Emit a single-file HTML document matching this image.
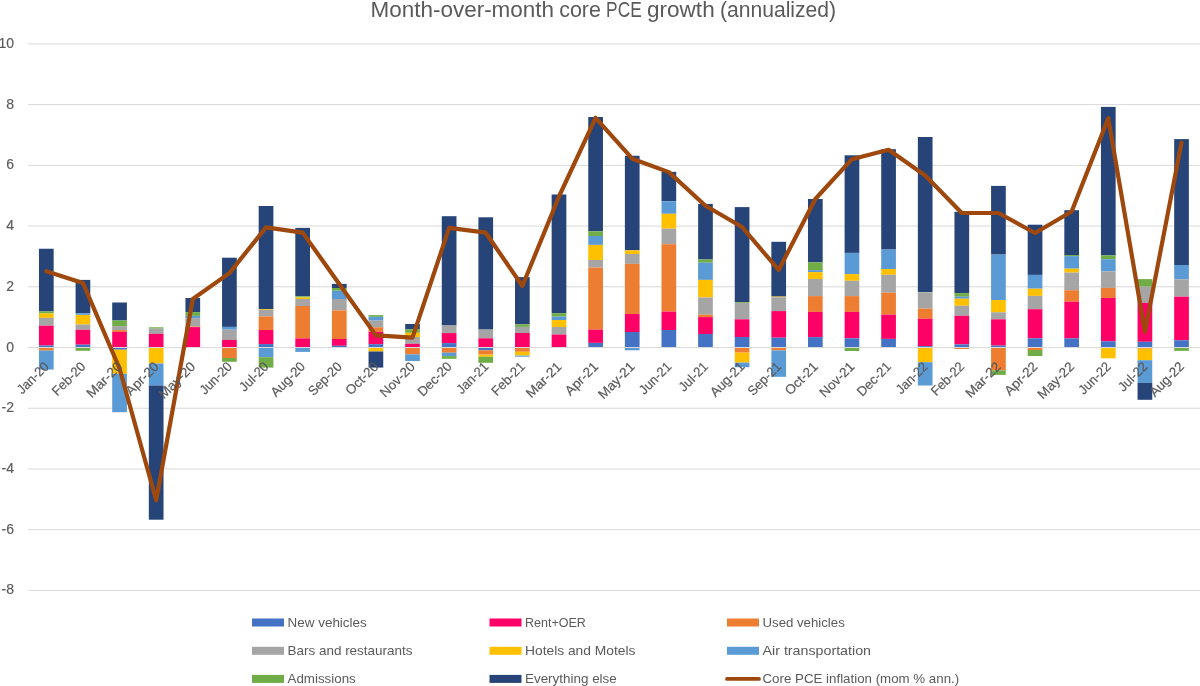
<!DOCTYPE html>
<html><head><meta charset="utf-8"><style>
html,body{margin:0;padding:0;background:#fff;}
body{width:1200px;height:686px;overflow:hidden;}
svg{display:block;}
.t{opacity:0.995;}
text{font-family:"Liberation Sans",sans-serif;fill:#595959;}
.ax{font-size:14px;stroke:#595959;stroke-width:0.15px;}
.xl{font-size:13.3px;stroke:#595959;stroke-width:0.2px;}
.lg{font-size:13.4px;}
.title{font-size:21.6px;}
</style></head><body>
<svg width="1200" height="686" viewBox="0 0 1200 686">
<rect width="1200" height="686" fill="#fff"/>
<rect x="28" y="43.40" width="1172" height="1" fill="#D9D9D9"/>
<rect x="28" y="104.12" width="1172" height="1" fill="#D9D9D9"/>
<rect x="28" y="164.84" width="1172" height="1" fill="#D9D9D9"/>
<rect x="28" y="225.56" width="1172" height="1" fill="#D9D9D9"/>
<rect x="28" y="286.28" width="1172" height="1" fill="#D9D9D9"/>
<rect x="28" y="407.72" width="1172" height="1" fill="#D9D9D9"/>
<rect x="28" y="468.44" width="1172" height="1" fill="#D9D9D9"/>
<rect x="28" y="529.16" width="1172" height="1" fill="#D9D9D9"/>
<rect x="28" y="589.88" width="1172" height="1" fill="#D9D9D9"/>
<rect x="38.96" y="248.75" width="14.7" height="62.65" fill="#264478"/>
<rect x="38.96" y="311.40" width="14.7" height="2.10" fill="#70AD47"/>
<rect x="38.96" y="313.50" width="14.7" height="4.40" fill="#FFC000"/>
<rect x="38.96" y="317.90" width="14.7" height="7.85" fill="#A5A5A5"/>
<rect x="38.96" y="325.75" width="14.7" height="19.75" fill="#FF0066"/>
<rect x="38.96" y="345.50" width="14.7" height="2.00" fill="#4472C4"/>
<rect x="38.96" y="347.50" width="14.7" height="3.10" fill="#ED7D31"/>
<rect x="38.96" y="350.60" width="14.7" height="19.00" fill="#5B9BD5"/>
<rect x="75.58" y="279.90" width="14.7" height="33.25" fill="#264478"/>
<rect x="75.58" y="313.15" width="14.7" height="1.75" fill="#5B9BD5"/>
<rect x="75.58" y="314.90" width="14.7" height="9.60" fill="#FFC000"/>
<rect x="75.58" y="324.50" width="14.7" height="5.30" fill="#A5A5A5"/>
<rect x="75.58" y="329.80" width="14.7" height="14.85" fill="#FF0066"/>
<rect x="75.58" y="344.65" width="14.7" height="2.85" fill="#4472C4"/>
<rect x="75.58" y="347.50" width="14.7" height="3.30" fill="#70AD47"/>
<rect x="112.20" y="302.50" width="14.7" height="18.00" fill="#264478"/>
<rect x="112.20" y="320.50" width="14.7" height="5.60" fill="#70AD47"/>
<rect x="112.20" y="326.10" width="14.7" height="4.00" fill="#A5A5A5"/>
<rect x="112.20" y="330.10" width="14.7" height="1.80" fill="#ED7D31"/>
<rect x="112.20" y="331.90" width="14.7" height="15.60" fill="#FF0066"/>
<rect x="112.20" y="347.50" width="14.7" height="2.20" fill="#4472C4"/>
<rect x="112.20" y="349.70" width="14.7" height="24.10" fill="#FFC000"/>
<rect x="112.20" y="373.80" width="14.7" height="38.40" fill="#5B9BD5"/>
<rect x="148.82" y="327.30" width="14.7" height="1.30" fill="#70AD47"/>
<rect x="148.82" y="328.60" width="14.7" height="5.20" fill="#A5A5A5"/>
<rect x="148.82" y="333.80" width="14.7" height="13.70" fill="#FF0066"/>
<rect x="148.82" y="347.50" width="14.7" height="16.00" fill="#FFC000"/>
<rect x="148.82" y="363.50" width="14.7" height="22.00" fill="#5B9BD5"/>
<rect x="148.82" y="385.50" width="14.7" height="134.20" fill="#264478"/>
<rect x="185.44" y="298.00" width="14.7" height="14.10" fill="#264478"/>
<rect x="185.44" y="312.10" width="14.7" height="3.80" fill="#70AD47"/>
<rect x="185.44" y="315.90" width="14.7" height="2.30" fill="#5B9BD5"/>
<rect x="185.44" y="318.20" width="14.7" height="8.40" fill="#A5A5A5"/>
<rect x="185.44" y="326.60" width="14.7" height="0.50" fill="#ED7D31"/>
<rect x="185.44" y="327.10" width="14.7" height="20.40" fill="#FF0066"/>
<rect x="222.06" y="257.70" width="14.7" height="69.20" fill="#264478"/>
<rect x="222.06" y="326.90" width="14.7" height="2.80" fill="#5B9BD5"/>
<rect x="222.06" y="329.70" width="14.7" height="10.20" fill="#A5A5A5"/>
<rect x="222.06" y="339.90" width="14.7" height="7.60" fill="#FF0066"/>
<rect x="222.06" y="347.50" width="14.7" height="10.50" fill="#ED7D31"/>
<rect x="222.06" y="358.00" width="14.7" height="3.80" fill="#70AD47"/>
<rect x="258.68" y="206.00" width="14.7" height="103.00" fill="#264478"/>
<rect x="258.68" y="309.00" width="14.7" height="0.80" fill="#FFC000"/>
<rect x="258.68" y="309.80" width="14.7" height="6.60" fill="#A5A5A5"/>
<rect x="258.68" y="316.40" width="14.7" height="13.60" fill="#ED7D31"/>
<rect x="258.68" y="330.00" width="14.7" height="14.05" fill="#FF0066"/>
<rect x="258.68" y="344.05" width="14.7" height="3.45" fill="#4472C4"/>
<rect x="258.68" y="347.50" width="14.7" height="9.70" fill="#5B9BD5"/>
<rect x="258.68" y="357.20" width="14.7" height="10.40" fill="#70AD47"/>
<rect x="295.30" y="227.90" width="14.7" height="68.40" fill="#264478"/>
<rect x="295.30" y="296.30" width="14.7" height="1.20" fill="#70AD47"/>
<rect x="295.30" y="297.50" width="14.7" height="1.50" fill="#FFC000"/>
<rect x="295.30" y="299.00" width="14.7" height="7.00" fill="#A5A5A5"/>
<rect x="295.30" y="306.00" width="14.7" height="32.40" fill="#ED7D31"/>
<rect x="295.30" y="338.40" width="14.7" height="9.10" fill="#FF0066"/>
<rect x="295.30" y="347.50" width="14.7" height="4.40" fill="#5B9BD5"/>
<rect x="331.92" y="283.90" width="14.7" height="4.10" fill="#264478"/>
<rect x="331.92" y="288.00" width="14.7" height="2.80" fill="#70AD47"/>
<rect x="331.92" y="290.80" width="14.7" height="8.20" fill="#5B9BD5"/>
<rect x="331.92" y="299.00" width="14.7" height="11.40" fill="#A5A5A5"/>
<rect x="331.92" y="310.40" width="14.7" height="28.60" fill="#ED7D31"/>
<rect x="331.92" y="339.00" width="14.7" height="6.80" fill="#FF0066"/>
<rect x="331.92" y="345.80" width="14.7" height="1.70" fill="#4472C4"/>
<rect x="368.54" y="315.10" width="14.7" height="1.70" fill="#70AD47"/>
<rect x="368.54" y="316.80" width="14.7" height="3.80" fill="#5B9BD5"/>
<rect x="368.54" y="320.60" width="14.7" height="6.70" fill="#A5A5A5"/>
<rect x="368.54" y="327.30" width="14.7" height="4.60" fill="#ED7D31"/>
<rect x="368.54" y="331.90" width="14.7" height="12.30" fill="#FF0066"/>
<rect x="368.54" y="344.20" width="14.7" height="3.30" fill="#4472C4"/>
<rect x="368.54" y="347.50" width="14.7" height="4.00" fill="#FFC000"/>
<rect x="368.54" y="351.50" width="14.7" height="16.10" fill="#264478"/>
<rect x="405.16" y="324.00" width="14.7" height="5.30" fill="#264478"/>
<rect x="405.16" y="329.30" width="14.7" height="3.50" fill="#70AD47"/>
<rect x="405.16" y="332.80" width="14.7" height="4.20" fill="#FFC000"/>
<rect x="405.16" y="337.00" width="14.7" height="6.80" fill="#A5A5A5"/>
<rect x="405.16" y="343.80" width="14.7" height="3.70" fill="#FF0066"/>
<rect x="405.16" y="347.50" width="14.7" height="6.80" fill="#ED7D31"/>
<rect x="405.16" y="354.30" width="14.7" height="6.70" fill="#5B9BD5"/>
<rect x="441.78" y="216.20" width="14.7" height="109.30" fill="#264478"/>
<rect x="441.78" y="325.50" width="14.7" height="7.60" fill="#A5A5A5"/>
<rect x="441.78" y="333.10" width="14.7" height="10.00" fill="#FF0066"/>
<rect x="441.78" y="343.10" width="14.7" height="4.40" fill="#4472C4"/>
<rect x="441.78" y="347.50" width="14.7" height="5.20" fill="#ED7D31"/>
<rect x="441.78" y="352.70" width="14.7" height="3.40" fill="#5B9BD5"/>
<rect x="441.78" y="356.10" width="14.7" height="2.70" fill="#70AD47"/>
<rect x="478.40" y="217.30" width="14.7" height="112.30" fill="#264478"/>
<rect x="478.40" y="329.60" width="14.7" height="8.70" fill="#A5A5A5"/>
<rect x="478.40" y="338.30" width="14.7" height="9.20" fill="#FF0066"/>
<rect x="478.40" y="347.50" width="14.7" height="2.80" fill="#4472C4"/>
<rect x="478.40" y="350.30" width="14.7" height="4.30" fill="#ED7D31"/>
<rect x="478.40" y="354.60" width="14.7" height="2.20" fill="#FFC000"/>
<rect x="478.40" y="356.80" width="14.7" height="6.00" fill="#70AD47"/>
<rect x="515.02" y="277.10" width="14.7" height="47.20" fill="#264478"/>
<rect x="515.02" y="324.30" width="14.7" height="2.60" fill="#70AD47"/>
<rect x="515.02" y="326.90" width="14.7" height="6.10" fill="#A5A5A5"/>
<rect x="515.02" y="333.00" width="14.7" height="14.50" fill="#FF0066"/>
<rect x="515.02" y="347.50" width="14.7" height="4.30" fill="#ED7D31"/>
<rect x="515.02" y="351.80" width="14.7" height="3.80" fill="#FFC000"/>
<rect x="515.02" y="355.60" width="14.7" height="1.10" fill="#5B9BD5"/>
<rect x="551.64" y="194.50" width="14.7" height="118.60" fill="#264478"/>
<rect x="551.64" y="313.10" width="14.7" height="3.50" fill="#70AD47"/>
<rect x="551.64" y="316.60" width="14.7" height="3.40" fill="#5B9BD5"/>
<rect x="551.64" y="320.00" width="14.7" height="7.00" fill="#FFC000"/>
<rect x="551.64" y="327.00" width="14.7" height="7.50" fill="#A5A5A5"/>
<rect x="551.64" y="334.50" width="14.7" height="13.00" fill="#FF0066"/>
<rect x="588.26" y="117.00" width="14.7" height="114.30" fill="#264478"/>
<rect x="588.26" y="231.30" width="14.7" height="4.70" fill="#70AD47"/>
<rect x="588.26" y="236.00" width="14.7" height="8.90" fill="#5B9BD5"/>
<rect x="588.26" y="244.90" width="14.7" height="15.10" fill="#FFC000"/>
<rect x="588.26" y="260.00" width="14.7" height="7.60" fill="#A5A5A5"/>
<rect x="588.26" y="267.60" width="14.7" height="62.00" fill="#ED7D31"/>
<rect x="588.26" y="329.60" width="14.7" height="13.30" fill="#FF0066"/>
<rect x="588.26" y="342.90" width="14.7" height="4.60" fill="#4472C4"/>
<rect x="624.88" y="155.75" width="14.7" height="94.55" fill="#264478"/>
<rect x="624.88" y="250.30" width="14.7" height="3.70" fill="#FFC000"/>
<rect x="624.88" y="254.00" width="14.7" height="9.90" fill="#A5A5A5"/>
<rect x="624.88" y="263.90" width="14.7" height="50.00" fill="#ED7D31"/>
<rect x="624.88" y="313.90" width="14.7" height="18.10" fill="#FF0066"/>
<rect x="624.88" y="332.00" width="14.7" height="15.50" fill="#4472C4"/>
<rect x="624.88" y="347.50" width="14.7" height="2.80" fill="#5B9BD5"/>
<rect x="661.50" y="171.85" width="14.7" height="29.40" fill="#264478"/>
<rect x="661.50" y="201.25" width="14.7" height="12.55" fill="#5B9BD5"/>
<rect x="661.50" y="213.80" width="14.7" height="14.90" fill="#FFC000"/>
<rect x="661.50" y="228.70" width="14.7" height="15.50" fill="#A5A5A5"/>
<rect x="661.50" y="244.20" width="14.7" height="67.40" fill="#ED7D31"/>
<rect x="661.50" y="311.60" width="14.7" height="18.40" fill="#FF0066"/>
<rect x="661.50" y="330.00" width="14.7" height="17.50" fill="#4472C4"/>
<rect x="698.12" y="203.90" width="14.7" height="55.60" fill="#264478"/>
<rect x="698.12" y="259.50" width="14.7" height="3.20" fill="#70AD47"/>
<rect x="698.12" y="262.70" width="14.7" height="17.20" fill="#5B9BD5"/>
<rect x="698.12" y="279.90" width="14.7" height="17.60" fill="#FFC000"/>
<rect x="698.12" y="297.50" width="14.7" height="17.20" fill="#A5A5A5"/>
<rect x="698.12" y="314.70" width="14.7" height="2.40" fill="#ED7D31"/>
<rect x="698.12" y="317.10" width="14.7" height="16.90" fill="#FF0066"/>
<rect x="698.12" y="334.00" width="14.7" height="13.50" fill="#4472C4"/>
<rect x="734.74" y="207.10" width="14.7" height="95.00" fill="#264478"/>
<rect x="734.74" y="302.10" width="14.7" height="0.80" fill="#70AD47"/>
<rect x="734.74" y="302.90" width="14.7" height="16.40" fill="#A5A5A5"/>
<rect x="734.74" y="319.30" width="14.7" height="17.70" fill="#FF0066"/>
<rect x="734.74" y="337.00" width="14.7" height="10.50" fill="#4472C4"/>
<rect x="734.74" y="347.50" width="14.7" height="5.10" fill="#ED7D31"/>
<rect x="734.74" y="352.60" width="14.7" height="10.00" fill="#FFC000"/>
<rect x="734.74" y="362.60" width="14.7" height="4.60" fill="#5B9BD5"/>
<rect x="771.36" y="241.80" width="14.7" height="54.80" fill="#264478"/>
<rect x="771.36" y="296.60" width="14.7" height="0.70" fill="#FFC000"/>
<rect x="771.36" y="297.30" width="14.7" height="13.80" fill="#A5A5A5"/>
<rect x="771.36" y="311.10" width="14.7" height="26.60" fill="#FF0066"/>
<rect x="771.36" y="337.70" width="14.7" height="9.80" fill="#4472C4"/>
<rect x="771.36" y="347.50" width="14.7" height="2.90" fill="#ED7D31"/>
<rect x="771.36" y="350.40" width="14.7" height="26.40" fill="#5B9BD5"/>
<rect x="807.98" y="199.00" width="14.7" height="63.40" fill="#264478"/>
<rect x="807.98" y="262.40" width="14.7" height="7.70" fill="#70AD47"/>
<rect x="807.98" y="270.10" width="14.7" height="2.00" fill="#5B9BD5"/>
<rect x="807.98" y="272.10" width="14.7" height="6.90" fill="#FFC000"/>
<rect x="807.98" y="279.00" width="14.7" height="17.10" fill="#A5A5A5"/>
<rect x="807.98" y="296.10" width="14.7" height="15.80" fill="#ED7D31"/>
<rect x="807.98" y="311.90" width="14.7" height="25.20" fill="#FF0066"/>
<rect x="807.98" y="337.10" width="14.7" height="10.40" fill="#4472C4"/>
<rect x="844.60" y="155.30" width="14.7" height="97.60" fill="#264478"/>
<rect x="844.60" y="252.90" width="14.7" height="21.20" fill="#5B9BD5"/>
<rect x="844.60" y="274.10" width="14.7" height="6.70" fill="#FFC000"/>
<rect x="844.60" y="280.80" width="14.7" height="15.30" fill="#A5A5A5"/>
<rect x="844.60" y="296.10" width="14.7" height="15.80" fill="#ED7D31"/>
<rect x="844.60" y="311.90" width="14.7" height="26.40" fill="#FF0066"/>
<rect x="844.60" y="338.30" width="14.7" height="9.20" fill="#4472C4"/>
<rect x="844.60" y="347.50" width="14.7" height="3.50" fill="#70AD47"/>
<rect x="881.22" y="149.20" width="14.7" height="100.40" fill="#264478"/>
<rect x="881.22" y="249.60" width="14.7" height="19.40" fill="#5B9BD5"/>
<rect x="881.22" y="269.00" width="14.7" height="5.80" fill="#FFC000"/>
<rect x="881.22" y="274.80" width="14.7" height="17.90" fill="#A5A5A5"/>
<rect x="881.22" y="292.70" width="14.7" height="22.00" fill="#ED7D31"/>
<rect x="881.22" y="314.70" width="14.7" height="24.20" fill="#FF0066"/>
<rect x="881.22" y="338.90" width="14.7" height="8.60" fill="#4472C4"/>
<rect x="917.84" y="137.00" width="14.7" height="155.10" fill="#264478"/>
<rect x="917.84" y="292.10" width="14.7" height="0.40" fill="#70AD47"/>
<rect x="917.84" y="292.50" width="14.7" height="16.10" fill="#A5A5A5"/>
<rect x="917.84" y="308.60" width="14.7" height="10.20" fill="#ED7D31"/>
<rect x="917.84" y="318.80" width="14.7" height="27.30" fill="#FF0066"/>
<rect x="917.84" y="346.10" width="14.7" height="1.40" fill="#4472C4"/>
<rect x="917.84" y="347.50" width="14.7" height="14.70" fill="#FFC000"/>
<rect x="917.84" y="362.20" width="14.7" height="23.30" fill="#5B9BD5"/>
<rect x="954.46" y="211.80" width="14.7" height="81.30" fill="#264478"/>
<rect x="954.46" y="293.10" width="14.7" height="3.60" fill="#70AD47"/>
<rect x="954.46" y="296.70" width="14.7" height="2.00" fill="#5B9BD5"/>
<rect x="954.46" y="298.70" width="14.7" height="7.10" fill="#FFC000"/>
<rect x="954.46" y="305.80" width="14.7" height="10.00" fill="#A5A5A5"/>
<rect x="954.46" y="315.80" width="14.7" height="28.60" fill="#FF0066"/>
<rect x="954.46" y="344.40" width="14.7" height="3.10" fill="#4472C4"/>
<rect x="954.46" y="347.50" width="14.7" height="1.50" fill="#ED7D31"/>
<rect x="991.08" y="185.90" width="14.7" height="68.70" fill="#264478"/>
<rect x="991.08" y="254.60" width="14.7" height="45.40" fill="#5B9BD5"/>
<rect x="991.08" y="300.00" width="14.7" height="12.30" fill="#FFC000"/>
<rect x="991.08" y="312.30" width="14.7" height="7.00" fill="#A5A5A5"/>
<rect x="991.08" y="319.30" width="14.7" height="26.30" fill="#FF0066"/>
<rect x="991.08" y="345.60" width="14.7" height="1.90" fill="#4472C4"/>
<rect x="991.08" y="347.50" width="14.7" height="22.90" fill="#ED7D31"/>
<rect x="991.08" y="370.40" width="14.7" height="4.50" fill="#70AD47"/>
<rect x="1027.70" y="224.70" width="14.7" height="50.20" fill="#264478"/>
<rect x="1027.70" y="274.90" width="14.7" height="13.80" fill="#5B9BD5"/>
<rect x="1027.70" y="288.70" width="14.7" height="7.20" fill="#FFC000"/>
<rect x="1027.70" y="295.90" width="14.7" height="13.30" fill="#A5A5A5"/>
<rect x="1027.70" y="309.20" width="14.7" height="29.10" fill="#FF0066"/>
<rect x="1027.70" y="338.30" width="14.7" height="9.20" fill="#4472C4"/>
<rect x="1027.70" y="347.50" width="14.7" height="2.50" fill="#ED7D31"/>
<rect x="1027.70" y="350.00" width="14.7" height="6.00" fill="#70AD47"/>
<rect x="1064.32" y="210.20" width="14.7" height="44.80" fill="#264478"/>
<rect x="1064.32" y="255.00" width="14.7" height="1.10" fill="#70AD47"/>
<rect x="1064.32" y="256.10" width="14.7" height="12.60" fill="#5B9BD5"/>
<rect x="1064.32" y="268.70" width="14.7" height="3.90" fill="#FFC000"/>
<rect x="1064.32" y="272.60" width="14.7" height="17.60" fill="#A5A5A5"/>
<rect x="1064.32" y="290.20" width="14.7" height="11.50" fill="#ED7D31"/>
<rect x="1064.32" y="301.70" width="14.7" height="36.70" fill="#FF0066"/>
<rect x="1064.32" y="338.40" width="14.7" height="9.10" fill="#4472C4"/>
<rect x="1100.94" y="106.90" width="14.7" height="148.50" fill="#264478"/>
<rect x="1100.94" y="255.40" width="14.7" height="3.80" fill="#70AD47"/>
<rect x="1100.94" y="259.20" width="14.7" height="12.20" fill="#5B9BD5"/>
<rect x="1100.94" y="271.40" width="14.7" height="16.50" fill="#A5A5A5"/>
<rect x="1100.94" y="287.90" width="14.7" height="10.00" fill="#ED7D31"/>
<rect x="1100.94" y="297.90" width="14.7" height="43.40" fill="#FF0066"/>
<rect x="1100.94" y="341.30" width="14.7" height="6.20" fill="#4472C4"/>
<rect x="1100.94" y="347.50" width="14.7" height="10.80" fill="#FFC000"/>
<rect x="1137.56" y="279.10" width="14.7" height="7.60" fill="#70AD47"/>
<rect x="1137.56" y="286.70" width="14.7" height="16.10" fill="#A5A5A5"/>
<rect x="1137.56" y="302.80" width="14.7" height="39.00" fill="#FF0066"/>
<rect x="1137.56" y="341.80" width="14.7" height="5.70" fill="#4472C4"/>
<rect x="1137.56" y="347.50" width="14.7" height="1.20" fill="#ED7D31"/>
<rect x="1137.56" y="348.70" width="14.7" height="11.50" fill="#FFC000"/>
<rect x="1137.56" y="360.20" width="14.7" height="22.70" fill="#5B9BD5"/>
<rect x="1137.56" y="382.90" width="14.7" height="16.90" fill="#264478"/>
<rect x="1174.18" y="139.10" width="14.7" height="125.90" fill="#264478"/>
<rect x="1174.18" y="265.00" width="14.7" height="14.40" fill="#5B9BD5"/>
<rect x="1174.18" y="279.40" width="14.7" height="17.30" fill="#A5A5A5"/>
<rect x="1174.18" y="296.70" width="14.7" height="43.60" fill="#FF0066"/>
<rect x="1174.18" y="340.30" width="14.7" height="7.20" fill="#4472C4"/>
<rect x="1174.18" y="347.50" width="14.7" height="3.40" fill="#70AD47"/>
<rect x="28" y="347" width="1172" height="1" fill="#D9D9D9"/>
<polyline points="46.31,271.20 82.93,282.90 119.55,368.50 156.17,500.30 192.79,299.00 229.41,273.10 266.03,227.30 302.65,232.60 339.27,284.00 375.89,335.40 412.51,337.70 449.13,227.90 485.75,232.70 522.37,286.00 558.99,196.50 595.61,117.80 632.23,158.70 668.85,172.10 705.47,205.70 742.09,227.00 778.71,270.00 815.33,199.00 851.95,159.20 888.57,149.80 925.19,175.50 961.81,213.00 998.43,213.00 1035.05,233.00 1071.67,211.50 1108.29,118.30 1144.91,331.80 1181.53,142.70" fill="none" stroke="#9E480E" stroke-width="4.2" stroke-linejoin="round" stroke-linecap="round"/>
<rect x="252" y="618.50" width="32" height="8.0" fill="#4472C4"/>
<rect x="489.5" y="618.50" width="32" height="8.0" fill="#FF0066"/>
<rect x="727" y="618.50" width="32" height="8.0" fill="#ED7D31"/>
<rect x="252" y="646.80" width="32" height="8.0" fill="#A5A5A5"/>
<rect x="489.5" y="646.80" width="32" height="8.0" fill="#FFC000"/>
<rect x="727" y="646.80" width="32" height="8.0" fill="#5B9BD5"/>
<rect x="252" y="674.90" width="32" height="8.0" fill="#70AD47"/>
<rect x="489.5" y="674.90" width="32" height="8.0" fill="#264478"/>
<line x1="727" y1="678.9" x2="759" y2="678.9" stroke="#9E480E" stroke-width="3.8" stroke-linecap="round"/>
<g class="t">
<text x="14" y="47.90" text-anchor="end" class="ax">10</text>
<text x="14" y="108.62" text-anchor="end" class="ax">8</text>
<text x="14" y="169.34" text-anchor="end" class="ax">6</text>
<text x="14" y="230.06" text-anchor="end" class="ax">4</text>
<text x="14" y="290.78" text-anchor="end" class="ax">2</text>
<text x="14" y="351.50" text-anchor="end" class="ax">0</text>
<text x="14" y="412.22" text-anchor="end" class="ax">-2</text>
<text x="14" y="472.94" text-anchor="end" class="ax">-4</text>
<text x="14" y="533.66" text-anchor="end" class="ax">-6</text>
<text x="14" y="594.38" text-anchor="end" class="ax">-8</text>
<text x="49.71" y="367.40" text-anchor="end" class="xl" textLength="38.77" lengthAdjust="spacingAndGlyphs" transform="rotate(-45 49.71 367.40)">Jan-20</text>
<text x="86.33" y="367.40" text-anchor="end" class="xl" textLength="41.11" lengthAdjust="spacingAndGlyphs" transform="rotate(-45 86.33 367.40)">Feb-20</text>
<text x="122.95" y="367.40" text-anchor="end" class="xl" textLength="44.05" lengthAdjust="spacingAndGlyphs" transform="rotate(-45 122.95 367.40)">Mar-20</text>
<text x="159.57" y="367.40" text-anchor="end" class="xl" textLength="40.68" lengthAdjust="spacingAndGlyphs" transform="rotate(-45 159.57 367.40)">Apr-20</text>
<text x="196.19" y="367.40" text-anchor="end" class="xl" textLength="45.58" lengthAdjust="spacingAndGlyphs" transform="rotate(-45 196.19 367.40)">May-20</text>
<text x="232.81" y="367.40" text-anchor="end" class="xl" textLength="39.45" lengthAdjust="spacingAndGlyphs" transform="rotate(-45 232.81 367.40)">Jun-20</text>
<text x="269.43" y="367.40" text-anchor="end" class="xl" textLength="35.11" lengthAdjust="spacingAndGlyphs" transform="rotate(-45 269.43 367.40)">Jul-20</text>
<text x="306.05" y="367.40" text-anchor="end" class="xl" textLength="42.47" lengthAdjust="spacingAndGlyphs" transform="rotate(-45 306.05 367.40)">Aug-20</text>
<text x="342.67" y="367.40" text-anchor="end" class="xl" textLength="41.11" lengthAdjust="spacingAndGlyphs" transform="rotate(-45 342.67 367.40)">Sep-20</text>
<text x="379.29" y="367.40" text-anchor="end" class="xl" textLength="40.20" lengthAdjust="spacingAndGlyphs" transform="rotate(-45 379.29 367.40)">Oct-20</text>
<text x="415.91" y="367.40" text-anchor="end" class="xl" textLength="43.20" lengthAdjust="spacingAndGlyphs" transform="rotate(-45 415.91 367.40)">Nov-20</text>
<text x="452.53" y="367.40" text-anchor="end" class="xl" textLength="41.90" lengthAdjust="spacingAndGlyphs" transform="rotate(-45 452.53 367.40)">Dec-20</text>
<text x="489.15" y="367.40" text-anchor="end" class="xl" textLength="38.77" lengthAdjust="spacingAndGlyphs" transform="rotate(-45 489.15 367.40)">Jan-21</text>
<text x="525.77" y="367.40" text-anchor="end" class="xl" textLength="41.11" lengthAdjust="spacingAndGlyphs" transform="rotate(-45 525.77 367.40)">Feb-21</text>
<text x="562.39" y="367.40" text-anchor="end" class="xl" textLength="44.05" lengthAdjust="spacingAndGlyphs" transform="rotate(-45 562.39 367.40)">Mar-21</text>
<text x="599.01" y="367.40" text-anchor="end" class="xl" textLength="40.68" lengthAdjust="spacingAndGlyphs" transform="rotate(-45 599.01 367.40)">Apr-21</text>
<text x="635.63" y="367.40" text-anchor="end" class="xl" textLength="45.58" lengthAdjust="spacingAndGlyphs" transform="rotate(-45 635.63 367.40)">May-21</text>
<text x="672.25" y="367.40" text-anchor="end" class="xl" textLength="39.45" lengthAdjust="spacingAndGlyphs" transform="rotate(-45 672.25 367.40)">Jun-21</text>
<text x="708.87" y="367.40" text-anchor="end" class="xl" textLength="35.11" lengthAdjust="spacingAndGlyphs" transform="rotate(-45 708.87 367.40)">Jul-21</text>
<text x="745.49" y="367.40" text-anchor="end" class="xl" textLength="42.47" lengthAdjust="spacingAndGlyphs" transform="rotate(-45 745.49 367.40)">Aug-21</text>
<text x="782.11" y="367.40" text-anchor="end" class="xl" textLength="41.11" lengthAdjust="spacingAndGlyphs" transform="rotate(-45 782.11 367.40)">Sep-21</text>
<text x="818.73" y="367.40" text-anchor="end" class="xl" textLength="40.20" lengthAdjust="spacingAndGlyphs" transform="rotate(-45 818.73 367.40)">Oct-21</text>
<text x="855.35" y="367.40" text-anchor="end" class="xl" textLength="43.20" lengthAdjust="spacingAndGlyphs" transform="rotate(-45 855.35 367.40)">Nov-21</text>
<text x="891.97" y="367.40" text-anchor="end" class="xl" textLength="41.90" lengthAdjust="spacingAndGlyphs" transform="rotate(-45 891.97 367.40)">Dec-21</text>
<text x="928.59" y="367.40" text-anchor="end" class="xl" textLength="38.77" lengthAdjust="spacingAndGlyphs" transform="rotate(-45 928.59 367.40)">Jan-22</text>
<text x="965.21" y="367.40" text-anchor="end" class="xl" textLength="41.11" lengthAdjust="spacingAndGlyphs" transform="rotate(-45 965.21 367.40)">Feb-22</text>
<text x="1001.83" y="367.40" text-anchor="end" class="xl" textLength="44.05" lengthAdjust="spacingAndGlyphs" transform="rotate(-45 1001.83 367.40)">Mar-22</text>
<text x="1038.45" y="367.40" text-anchor="end" class="xl" textLength="40.68" lengthAdjust="spacingAndGlyphs" transform="rotate(-45 1038.45 367.40)">Apr-22</text>
<text x="1075.07" y="367.40" text-anchor="end" class="xl" textLength="45.58" lengthAdjust="spacingAndGlyphs" transform="rotate(-45 1075.07 367.40)">May-22</text>
<text x="1111.69" y="367.40" text-anchor="end" class="xl" textLength="39.45" lengthAdjust="spacingAndGlyphs" transform="rotate(-45 1111.69 367.40)">Jun-22</text>
<text x="1148.31" y="367.40" text-anchor="end" class="xl" textLength="35.11" lengthAdjust="spacingAndGlyphs" transform="rotate(-45 1148.31 367.40)">Jul-22</text>
<text x="1184.93" y="367.40" text-anchor="end" class="xl" textLength="42.47" lengthAdjust="spacingAndGlyphs" transform="rotate(-45 1184.93 367.40)">Aug-22</text>
<text x="370.60" y="16.8" class="title" textLength="183.41" lengthAdjust="spacingAndGlyphs">Month-over-month</text>
<text x="559.25" y="16.8" class="title" textLength="41.64" lengthAdjust="spacingAndGlyphs">core</text>
<text x="606.12" y="16.8" class="title" textLength="35.64" lengthAdjust="spacingAndGlyphs">PCE</text>
<text x="646.99" y="16.8" class="title" textLength="67.70" lengthAdjust="spacingAndGlyphs">growth</text>
<text x="719.93" y="16.8" class="title" textLength="116.20" lengthAdjust="spacingAndGlyphs">(annualized)</text>
<text x="287.5" y="626.70" class="lg" textLength="79.31" lengthAdjust="spacingAndGlyphs">New vehicles</text>
<text x="525.0" y="626.70" class="lg" textLength="60.89" lengthAdjust="spacingAndGlyphs">Rent+OER</text>
<text x="762.5" y="626.70" class="lg" textLength="82.24" lengthAdjust="spacingAndGlyphs">Used vehicles</text>
<text x="287.5" y="655.00" class="lg" textLength="124.99" lengthAdjust="spacingAndGlyphs">Bars and restaurants</text>
<text x="525.0" y="655.00" class="lg" textLength="110.39" lengthAdjust="spacingAndGlyphs">Hotels and Motels</text>
<text x="762.5" y="655.00" class="lg" textLength="108.52" lengthAdjust="spacingAndGlyphs">Air transportation</text>
<text x="287.5" y="683.10" class="lg" textLength="68.24" lengthAdjust="spacingAndGlyphs">Admissions</text>
<text x="525.0" y="683.10" class="lg" textLength="91.76" lengthAdjust="spacingAndGlyphs">Everything else</text>
<text x="762.5" y="683.10" class="lg" textLength="196.69" lengthAdjust="spacingAndGlyphs">Core PCE inflation (mom % ann.)</text>
</g>
</svg>
</body></html>
